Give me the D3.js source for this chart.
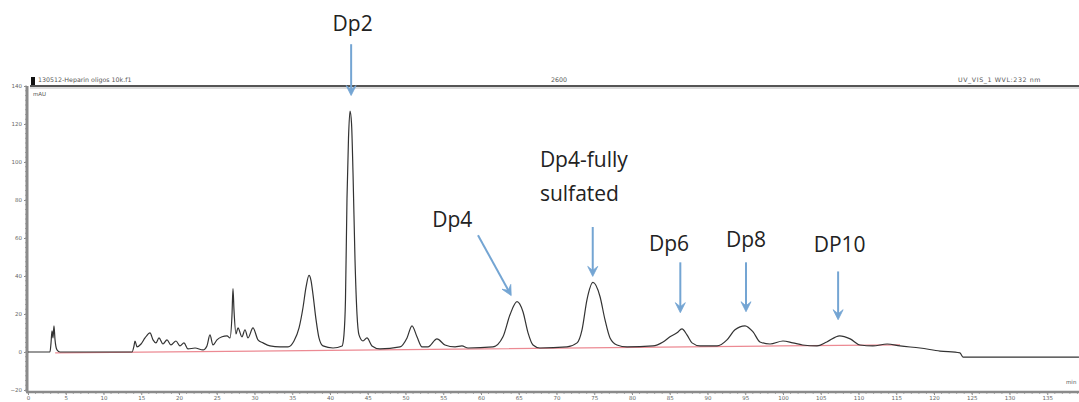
<!DOCTYPE html>
<html>
<head>
<meta charset="utf-8">
<script src="https://cdn.jsdelivr.net/npm/d3@7"></script>
<style>
  html, body { margin: 0; padding: 0; background: #fff; }
  svg { display: block; }
</style>
</head>
<body>
<svg id="chart" width="1079" height="402"></svg>
<script>
// Chromatogram trace: retention time (min) and detector signal (mAU)
const traceTime = [
  0, 2.65, 2.91, 3.05, 3.18, 3.31, 3.44, 3.58, 3.84, 4.24,
  13.77, 14.04, 14.17, 14.44, 14.97, 15.5, 16.16, 16.56, 16.95, 17.35,
  17.88, 18.41, 18.94, 19.6, 20.13, 20.66, 21.19, 22.12, 23.18, 23.7,
  24.1, 24.5, 25.03, 25.7, 26.36, 26.75, 27.02, 27.15, 27.28, 27.55,
  27.81, 28.34, 28.74, 29.14, 29.8, 30.46, 31.13, 32.05, 33.38, 34.44,
  35.23, 35.9, 36.42, 36.82, 37.22, 37.48, 37.75, 38.15, 38.54, 39.07,
  40.4, 41.6, 41.85, 42.05, 42.25, 42.45, 42.65, 42.85, 43.05, 43.31,
  43.58, 43.84, 44.37, 44.9, 45.56, 46.62,
  49.27, 50.2, 50.86, 51.52, 52.19, 52.98, 54.17, 55.23, 56.56, 57.48,
  58.28, 61.59, 62.91, 63.84, 64.77, 65.56, 66.23, 66.89, 67.81, 71.39,
  72.72, 73.38, 74.04, 74.83, 75.76, 76.42, 77.09, 78.01, 79.34, 82.78,
  84.11, 85.03, 85.96, 86.62, 87.28, 87.95, 89.01, 91.26, 92.58, 93.64,
  94.97, 96.03, 96.95, 98.28,
  100.0, 101.3, 102.6, 104.5, 105.8, 107.5, 108.9, 110.2, 111.9, 113.8,
  115.5, 118.15, 120.8, 123.44, 123.84, 139.2
];
const traceSignal = [
  0, 0, 0, 4.8, 11.1, 7.4, 13.8, 6.4, 1.1, 0,
  0, 3.2, 5.8, 2.7, 4.2, 7.4, 10.1, 6.4, 4.8, 7.4,
  4.2, 6.4, 3.7, 5.8, 3.2, 4.8, 1.6, 2.1, 1.1, 3.2,
  9.0, 3.7, 6.4, 8.0, 8.5, 7.4, 19.6, 33.4, 22.3, 9.5,
  12.7, 8.0, 11.7, 7.4, 12.7, 6.4, 4.8, 3.2, 2.7, 2.7,
  5.8, 12.7, 23.3, 34.0, 40.3, 37.7, 30.2, 17.0, 7.4, 3.2,
  2.1, 3.2, 9.0, 27.6, 80.6, 112.5, 126.8, 120.4, 93.9, 48.8,
  19.6, 9.0, 5.8, 7.4, 3.2, 1.6,
  2.7, 7.4, 13.8, 8.0, 2.7, 2.7, 6.9, 3.7, 2.7, 3.2,
  2.1, 2.7, 8.0, 19.6, 26.5, 21.2, 10.1, 3.7, 2.1, 2.7,
  4.8, 11.7, 27.6, 36.6, 29.2, 17.0, 7.4, 3.7, 2.7, 3.2,
  5.3, 8.0, 10.1, 12.2, 9.0, 4.8, 3.2, 3.2, 6.4, 11.7,
  13.8, 10.6, 5.3, 4.2,
  5.8, 4.8, 3.7, 3.2, 5.3, 8.5, 6.9, 3.7, 3.2, 4.2,
  3.2, 2.1, 0.5, -0.5, -2.7, -2.7
];

// Integration baseline drawn under the peaks
const baselineTime = [3.6, 46.6, 99.6, 115.5];
const baselineSignal = [-0.5, 1.1, 3.2, 3.7];

// Axis ticks
const yTickValues = [-20, 0, 20, 40, 60, 80, 100, 120, 140];
const xTickValues = d3.range(0, 140, 5);

// Peak annotations: label text, label anchor (time, signal), arrow tail and head
const peakNames = ["Dp2", "Dp4", "Dp4-fully|sulfated", "Dp6", "Dp8", "DP10"];
const labelTime = [43.0, 56.2, 67.8, 84.9, 95.1, 107.5];
const labelSignal = [168.7, 65.8, 97.6, 53.0, 55.2, 52.5];
const labelAnchor = ["middle", "middle", "start", "middle", "middle", "middle"];
const arrowTailTime = [42.8, 59.6, 74.8, 86.4, 95.1, 107.3];
const arrowTailSignal = [162, 61.5, 65.8, 47.2, 47.2, 42.4];
const arrowHeadTime = [42.8, 64.0, 74.8, 86.4, 95.1, 107.3];
const arrowHeadSignal = [135, 29.7, 39.8, 20.7, 21.2, 17.0];

const svg = d3.select("#chart");
const W = 1079;
const plotLeft = 28, plotRight = 1085, plotTop = 86, plotBottom = 392;

const x = d3.scaleLinear().domain([0, 140]).range([plotLeft, plotRight]);
const y = d3.scaleLinear().domain([0, 140]).range([352, 86]);

const axisGrey = "#8a8a8a";
const tinyFont = "'DejaVu Sans', sans-serif";

// Header bar with run information
svg.append("line")
  .attr("x1", 30).attr("x2", W).attr("y1", plotTop).attr("y2", plotTop)
  .attr("stroke", "#555").attr("stroke-width", 2);
svg.append("line")
  .attr("x1", 30).attr("x2", W).attr("y1", plotTop + 2).attr("y2", plotTop + 2)
  .attr("stroke", "#bbb").attr("stroke-width", 1);
svg.append("rect")
  .attr("x", 31).attr("y", 77).attr("width", 4).attr("height", 8)
  .attr("fill", "#111");
const headText = svg.append("g")
  .attr("font-family", tinyFont).attr("font-size", 6.3).attr("fill", "#555");
headText.append("text").attr("x", 38).attr("y", 82).text("130512-Heparin oligos 10k.f1");
headText.append("text").attr("x", 551).attr("y", 82).text("2600");
headText.append("text").attr("x", 958).attr("y", 82).attr("letter-spacing", 0.6).text("UV_VIS_1 WVL:232 nm");
headText.append("text").attr("x", 33).attr("y", 96).attr("font-size", 5.5).text("mAU");
headText.append("text").attr("x", 1066).attr("y", 384).attr("font-size", 5.5).text("min");

// Y axis
const yAxis = d3.axisLeft(y).tickValues(yTickValues).tickSize(3).tickFormat(d3.format("d"));
const gy = svg.append("g").attr("transform", `translate(${plotLeft - 1},0)`).call(yAxis);
gy.select(".domain").remove();
gy.selectAll(".tick line").attr("stroke", axisGrey);
gy.selectAll(".tick text")
  .attr("font-family", tinyFont).attr("font-size", 5.5).attr("fill", "#666").attr("x", -5);
gy.selectAll(".minor").data(d3.range(-20, 140.1, 2.5)).enter().append("line")
  .attr("x1", -2).attr("x2", 0).attr("y1", d => y(d)).attr("y2", d => y(d))
  .attr("stroke", "#aaa");
svg.append("line")
  .attr("x1", plotLeft - 1).attr("x2", plotLeft - 1).attr("y1", plotTop).attr("y2", plotBottom)
  .attr("stroke", axisGrey).attr("stroke-width", 3);

// X axis
const xAxis = d3.axisBottom(x).tickValues(xTickValues).tickSize(3).tickFormat(d3.format("d"));
const gx = svg.append("g").attr("transform", `translate(0,${plotBottom})`).call(xAxis);
gx.select(".domain").remove();
gx.selectAll(".tick line").attr("stroke", axisGrey);
gx.selectAll(".tick text")
  .attr("font-family", tinyFont).attr("font-size", 5.5).attr("fill", "#666").attr("y", 4);
gx.selectAll(".minor").data(d3.range(0, 140, 1)).enter().append("line")
  .attr("x1", d => x(d)).attr("x2", d => x(d)).attr("y1", -1).attr("y2", 2)
  .attr("stroke", "#aaa");
svg.append("line")
  .attr("x1", plotLeft - 2).attr("x2", W).attr("y1", plotBottom).attr("y2", plotBottom)
  .attr("stroke", axisGrey).attr("stroke-width", 2.5);

// Baseline (red) under the trace
const baseline = baselineTime.map((t, i) => [t, baselineSignal[i]]);
svg.append("path")
  .datum(baseline)
  .attr("fill", "none").attr("stroke", "#ec8a93").attr("stroke-width", 1.2)
  .attr("d", d3.line().x(d => x(d[0])).y(d => y(d[1])));

// Chromatogram
const trace = traceTime.map((t, i) => [t, traceSignal[i]]);
svg.append("path")
  .datum(trace)
  .attr("fill", "none").attr("stroke", "#333").attr("stroke-width", 1.2)
  .attr("stroke-linejoin", "round")
  .attr("d", d3.line().x(d => x(d[0])).y(d => y(d[1])).curve(d3.curveMonotoneX));

// Peak annotations
const arrowBlue = "#74a5d3";
const notes = svg.append("g");
peakNames.forEach((name, i) => {
  const tx = x(arrowTailTime[i]), ty = y(arrowTailSignal[i]);
  const hx = x(arrowHeadTime[i]), hy = y(arrowHeadSignal[i]);
  const ang = Math.atan2(hy - ty, hx - tx);
  const back = 10, wing = 5;
  const bx = hx - back * Math.cos(ang), by = hy - back * Math.sin(ang);
  notes.append("line")
    .attr("x1", tx).attr("y1", ty)
    .attr("x2", hx - 4 * Math.cos(ang)).attr("y2", hy - 4 * Math.sin(ang))
    .attr("stroke", arrowBlue).attr("stroke-width", 2);
  const px = -Math.sin(ang), py = Math.cos(ang);
  notes.append("path")
    .attr("d", `M${hx},${hy} L${bx + wing * px},${by + wing * py} L${hx - 6 * Math.cos(ang)},${hy - 6 * Math.sin(ang)} L${bx - wing * px},${by - wing * py} Z`)
    .attr("fill", arrowBlue).attr("stroke", arrowBlue).attr("stroke-width", 0.8)
    .attr("stroke-linejoin", "round");

  const lines = name.split("|");
  lines.forEach((ln, k) => {
    notes.append("text")
      .attr("x", x(labelTime[i]))
      .attr("y", y(labelSignal[i]) + k * 34)
      .attr("text-anchor", labelAnchor[i])
      .attr("font-family", "'Open Sans', sans-serif")
      .attr("font-size", 21)
      .attr("fill", "#222")
      .text(ln);
  });
});
</script>
</body>
</html>
